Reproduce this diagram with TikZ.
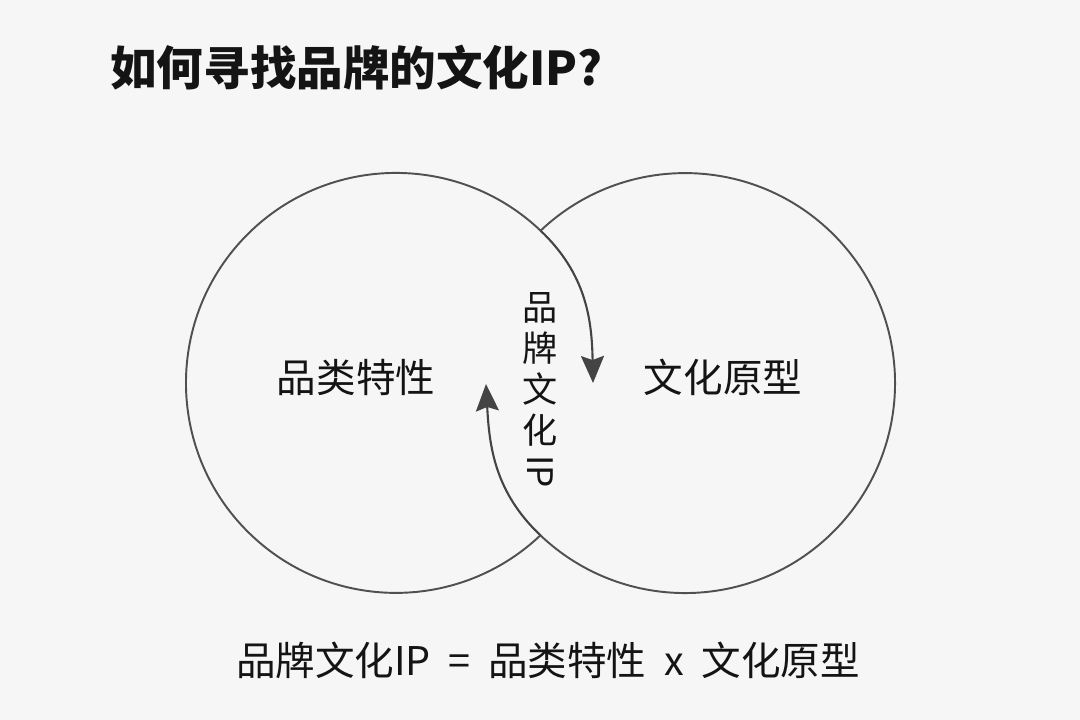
\documentclass[tikz,border=0pt]{standalone}
\usepackage{fontspec}
\usepackage{graphicx}
\newfontfamily\cjk{Noto Sans CJK SC}
\usetikzlibrary{arrows.meta}
\definecolor{bgcol}{HTML}{F6F6F6}
\definecolor{linecol}{HTML}{505050}
\definecolor{arrowcol}{HTML}{444444}
\definecolor{txtcol}{HTML}{141414}

\begin{document}
\begin{tikzpicture}[x=0.2mm,y=0.2mm]

\tikzset{ring/.style={draw=linecol,line width=1.1pt},
    flow/.style={draw=arrowcol,line width=1.2pt,-{Stealth[length=5.4mm,width=4.6mm,inset=0.8mm]}},
    word/.style={text=txtcol,inner sep=0pt,font=\cjk\fontsize{22.5}{27}\selectfont}}

\fill[bgcol] (0,0) rectangle (1080,720);
\useasboundingbox (0,0) rectangle (1080,720);

%% Title
\node[word,anchor=west,font=\cjk\bfseries\fontsize{26.5}{32}\selectfont] (title) at (110,652) {如何寻找品牌的文化IP?};

%% Circles
\coordinate (lc) at (396,337);
\coordinate (rc) at (685,337);
\coordinate (ptop) at (540.5,489.4);
\coordinate (pbot) at (540.5,184.6);
\draw[ring] (ptop) arc[start angle=46.5,end angle=313.5,radius=210];
\draw[ring] (pbot) arc[start angle=-133.5,end angle=133.5,radius=210];

\node[word] (cat) at (356,343) {品类特性};
\node[word] (arch) at (723,343) {文化原型};

%% Overlap
\coordinate (tipr) at (593,337);
\coordinate (tipl) at (486,336);
\draw[flow] (ptop) to[out=-43.5,in=91] (tipr);
\draw[flow] (pbot) to[out=136.5,in=-87] (tipl);

\node[word,align=center,font=\cjk\fontsize{20}{23.5}\selectfont] (ip) at (540,330)
    {品\\牌\\文\\化\\\raisebox{0.85em}{\rotatebox{-90}{IP}}};

%% Formula
\node[word] (formula) at (548,60)
    {品牌文化IP\hspace{0.45em}=\hspace{0.45em}品类特性\hspace{0.45em}x\hspace{0.45em}文化原型};

\end{tikzpicture}
\end{document}
